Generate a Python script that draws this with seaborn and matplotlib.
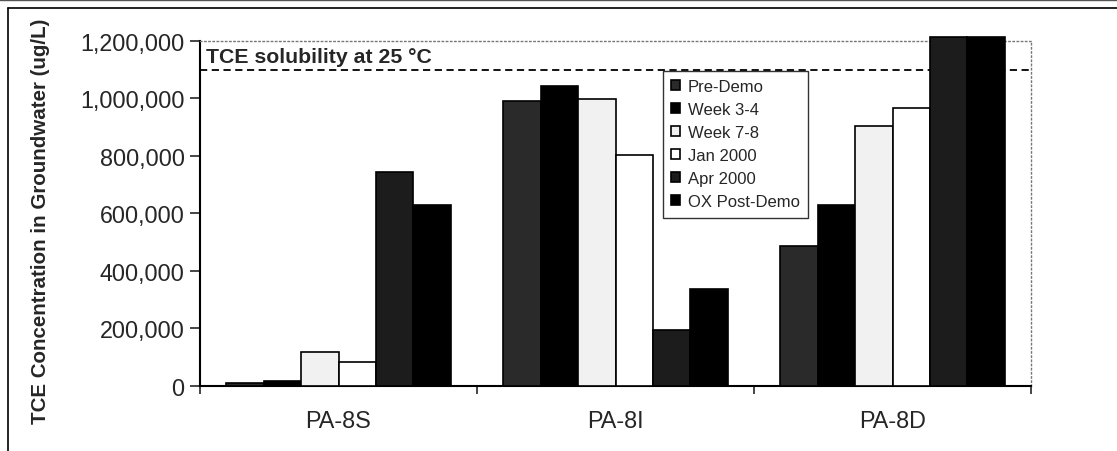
import pandas as pd
import numpy as np
import matplotlib
matplotlib.use('Agg')
import matplotlib.pyplot as plt
from matplotlib.lines import Line2D
from matplotlib.ticker import FuncFormatter, FixedLocator
import seaborn as sb

# data (ug/L)
wells = ['PA-8S', 'PA-8I', 'PA-8D']
periods = ['Pre-Demo', 'Week 3-4', 'Week 7-8', 'Jan 2000', 'Apr 2000', 'OX Post-Demo']
pre_demo = [8000, 990000, 486000]
week_3_4 = [17000, 1043000, 630000]
week_7_8 = [116000, 999000, 904000]
jan_2000 = [82000, 802000, 967000]
apr_2000 = [745000, 195000, 1215000]
ox_post = [630000, 335000, 1215000]
solubility = 1100000

colors = ['#2a2a2a', '#000000', '#f1f1f1', '#ffffff', '#1c1c1c', '#000000']

series = [pre_demo, week_3_4, week_7_8, jan_2000, apr_2000, ox_post]
rows = []
for p, vals in zip(periods, series):
    for w, v in zip(wells, vals):
        rows.append({'well': w, 'period': p, 'conc': v})
df = pd.DataFrame(rows)

sb.set_style('white')
plt.rcParams['font.family'] = ['Liberation Sans', 'DejaVu Sans']

fig = plt.figure(figsize=(11.17, 4.52), dpi=100)
ax = fig.add_axes([200 / 1117, (452 - 386.7) / 452, 831 / 1117, 344.7 / 452])

sb.barplot(data=df, x='well', y='conc', hue='period', order=wells, hue_order=periods,
           palette=colors, width=0.81, edgecolor='black', linewidth=1.2,
           saturation=1, ax=ax, zorder=3)
for bar in ax.patches:
    bar.set_clip_on(False)

ax.axhline(solubility, ls=(0, (4, 2.5)), color='black', lw=1.3, zorder=2)
ax.text(-0.48, 1112000, 'TCE solubility at 25 \u00b0C', fontsize=15.3,
        fontweight='bold', ha='left', va='bottom')

ax.set_xlim(-0.5, 2.5)
ax.set_ylim(0, 1200000)
ax.set_yticks(np.arange(0, 1200001, 200000))
ax.yaxis.set_major_formatter(FuncFormatter(lambda v, p: f'{int(v):,}'))
ax.xaxis.set_minor_locator(FixedLocator([-0.5, 0.5, 1.5, 2.5]))
ax.tick_params(axis='x', which='major', length=0, labelsize=16.8, pad=17)
ax.tick_params(axis='x', which='minor', length=6, width=1.2, direction='out', bottom=True)
ax.tick_params(axis='y', length=7, width=1.2, direction='out', left=True, labelsize=16.8, pad=4)

ax.set_xlabel('')
ax.set_ylabel('TCE Concentration in Groundwater (ug/L)', fontsize=14.8, fontweight='bold')
ax.yaxis.set_label_coords(-0.18, 0.48)

for s in ['left', 'bottom']:
    ax.spines[s].set_color('black')
    ax.spines[s].set_linewidth(1.5)
for s in ['top', 'right']:
    ax.spines[s].set_color('#777777')
    ax.spines[s].set_linestyle((0, (1, 2)))
    ax.spines[s].set_linewidth(1)

leg = ax.legend(loc='upper left', bbox_to_anchor=(0.557, 0.913), fontsize=12,
                frameon=True, fancybox=False, borderpad=0.5, labelspacing=0.48,
                handlelength=0.55, handleheight=0.55, handletextpad=0.45,
                borderaxespad=0)
leg.get_frame().set_edgecolor('black')
leg.get_frame().set_linewidth(1)
leg.set_zorder(5)
for h in leg.legend_handles:
    h.set_edgecolor('black')
    h.set_linewidth(1.2)

# scanned page frame
fig.add_artist(Line2D([8 / 1117, 1], [1 - 9 / 452, 1 - 9 / 452], color='black', lw=1.2,
                      transform=fig.transFigure))
fig.add_artist(Line2D([0, 1], [1 - 1 / 452, 1 - 1 / 452], color='#555555', lw=1,
                      transform=fig.transFigure))
fig.add_artist(Line2D([8 / 1117, 8 / 1117], [0, 1 - 9 / 452], color='black', lw=1.2,
                      transform=fig.transFigure))

fig.savefig('out.png', dpi=100)
